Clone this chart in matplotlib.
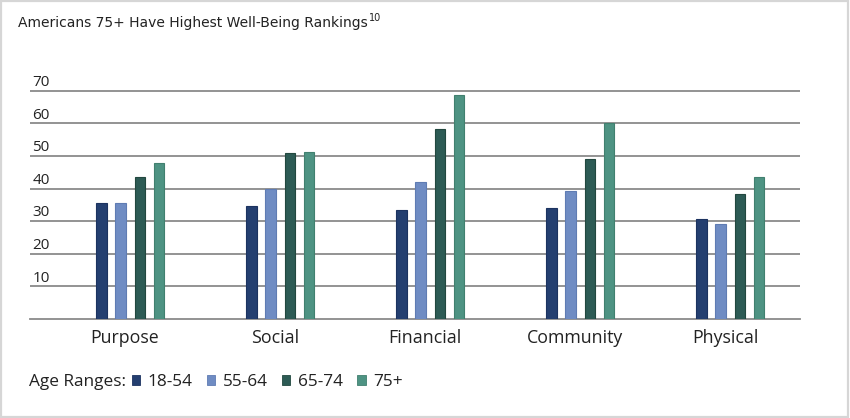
import numpy as np
import matplotlib.pyplot as plt
from matplotlib.patches import Patch, Rectangle
from matplotlib.transforms import blended_transform_factory

plt.rcParams['font.family'] = ['Open Sans', 'DejaVu Sans']

# Дані
categories = ['Purpose', 'Social', 'Financial', 'Community', 'Physical']
age_ranges = ['18-54', '55-64', '65-74', '75+']
v_18_54 = [35.5, 34.8, 33.4, 34.2, 30.8]
v_55_64 = [35.5, 40.0, 42.1, 39.3, 29.1]
v_65_74 = [43.6, 51.0, 58.3, 49.0, 38.4]
v_75 = [47.8, 51.3, 68.8, 60.0, 43.6]
yticks = [10, 20, 30, 40, 50, 60, 70]

colors = ['#243f70', '#6f8cc3', '#2d5b55', '#4e9383']
edges = ['#1c3360', '#5f7cb3', '#22483f', '#41806f']

fig = plt.figure(figsize=(8.5, 4.18), dpi=100)
W, H = 850, 418

# рамка
fig.patches.append(Rectangle((0.001, 0.002), 0.997, 0.995, transform=fig.transFigure,
                             fill=False, edgecolor='#d6d6d6', linewidth=1.6))

ax = fig.add_axes([30 / W, 1 - 319 / H, 770 / W, 244.5 / H])
x = np.arange(len(categories))
step = 0.127
width = 0.07
series = [v_18_54, v_55_64, v_65_74, v_75]
for i, vals in enumerate(series):
    ax.bar(x + (i - 1.5) * step + 0.035, vals, width=width, color=colors[i],
           edgecolor=edges[i], linewidth=0.8, zorder=3, label=age_ranges[i])

ax.set_xlim(-0.5 - 20 / 150, 4.5)
ax.set_ylim(0, 75)
for s in ['top', 'right', 'left']:
    ax.spines[s].set_visible(False)
ax.spines['bottom'].set_color('#8a8a8a')
ax.spines['bottom'].set_linewidth(1.3)
ax.set_yticks(yticks)
ax.set_yticklabels([])
ax.tick_params(axis='y', length=0)
ax.grid(axis='y', color='#8a8a8a', linewidth=1.3, zorder=0)
ax.set_xticks(x)
ax.set_xticklabels(categories, fontsize=12.8, color='#222222')
ax.tick_params(axis='x', length=0, pad=7)

trans = blended_transform_factory(ax.transAxes, ax.transData)
for t in yticks:
    ax.text(0.003, t + 1.5, str(t), transform=trans, fontsize=11,
            color='#222222', ha='left', va='baseline')

title = fig.text(18 / W, 1 - 23 / H, 'Americans 75+ Have Highest Well-Being Rankings',
                 fontsize=10, color='#222222', family=['DejaVu Sans'],
                 ha='left', va='center')
fig.canvas.draw()
bb = title.get_window_extent()
fig.text(bb.x1 / W + 0.001, 1 - 18 / H, '10', fontsize=7, color='#222222',
         family=['DejaVu Sans'], ha='left', va='center')

fig.text(29 / W, 1 - 382 / H, 'Age Ranges:', fontsize=12.4, color='#222222',
         ha='left', va='center')
handles = [Patch(facecolor=c, edgecolor=e, linewidth=0.6) for c, e in zip(colors, edges)]
fig.legend(handles, age_ranges, loc='center left', bbox_to_anchor=(116 / W, 1 - 382 / H),
           ncol=4, frameon=False, fontsize=12.4, handlelength=0.5, handleheight=0.5,
           handletextpad=0.45, columnspacing=0.8, labelcolor='#222222')

fig.savefig('out.png', dpi=100)
